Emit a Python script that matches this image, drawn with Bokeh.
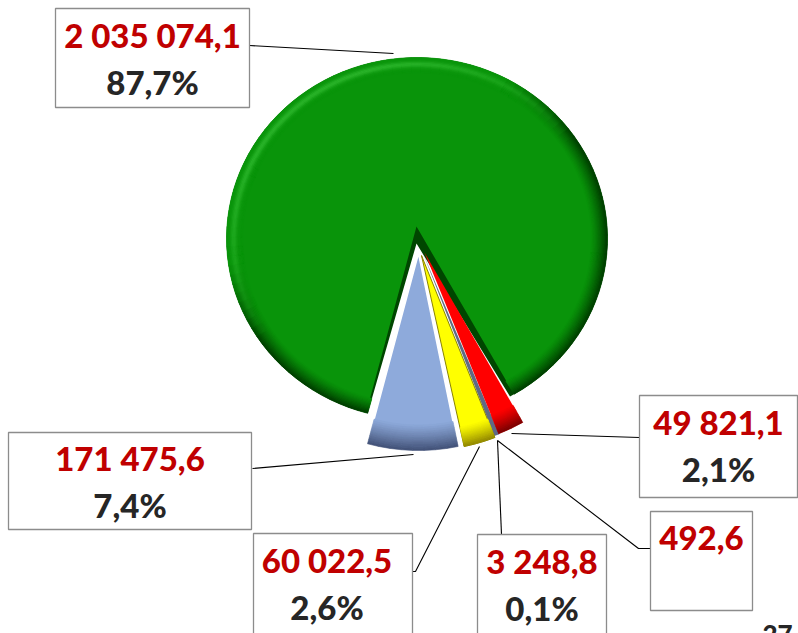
import math
from bokeh.plotting import figure
from bokeh.models import Range1d
from bokeh.core.properties import value
from bokeh.embed import file_html
from bokeh.resources import INLINE

values = [2035074.1, 49821.1, 492.6, 3248.8, 60022.5, 171475.6]
value_labels = ["2 035 074,1", "49 821,1", "492,6", "3 248,8", "60 022,5", "171 475,6"]
pct_labels = ["87,7%", "2,1%", "", "0,1%", "2,6%", "7,4%"]
corner_label = "27"

START = 195.0
total = sum(values)
spans = [v / total * 360 for v in values]
starts = []
a = START
for s in spans:
    starts.append(a)
    a += s
starts = [s % 360 for s in starts]

FONT = value("Lato Black, Lato")

p = figure(width=798, height=633, output_backend="svg", toolbar_location=None,
           x_range=Range1d(0, 798), y_range=Range1d(633, 0),
           x_axis_type=None, y_axis_type=None, min_border=0)
p.outline_line_color = None
p.grid.visible = False
p.background_fill_color = "white"
p.border_fill_color = "white"


def pt(c, th, f=1.0):
    r = math.radians(th)
    return c[0] + c[2] * f * math.sin(r), c[1] - c[3] * f * math.cos(r)


def arc(c, a0, a1, f=1.0, n=None):
    n = n or max(2, int(abs(a1 - a0) / 2) + 2)
    return [pt(c, a0 + (a1 - a0) * i / (n - 1), f) for i in range(n)]


def lerp(c1, c2, t):
    return "#%02x%02x%02x" % tuple(int(round(x + (y - x) * t)) for x, y in zip(c1, c2))


def wedge(c, a0, a1, color, apex=None, line=None, lw=0):
    pts = [apex or (c[0], c[1])] + arc(c, a0, a1)
    p.patch([q[0] for q in pts], [q[1] for q in pts], fill_color=color,
            line_color=line or color, line_width=lw)


def rim(c, a0, a1, face, dark, depth, lit=False):
    xs, ys, cols = [], [], []
    bands = 12
    n = max(1, int(abs(a1 - a0) / 3.0))
    for i in range(n):
        t0 = a0 + (a1 - a0) * i / n
        t1 = a0 + (a1 - a0) * (i + 1) / n
        tm = (t0 + t1) / 2
        light = max(0.0, math.cos(math.radians(tm - 325))) if lit else 0.0
        for b in range(bands):
            f0 = 1 - depth * (1 - b / bands)
            f1 = 1 - depth * (1 - (b + 1) / bands)
            q = arc(c, t0, t1, f0, 2) + arc(c, t1, t0, f1, 2)
            xs.append([u[0] for u in q])
            ys.append([u[1] for u in q])
            k = (b + 1) / bands
            if lit:
                # dark lower edge, with a pale band set in from the lit edge
                shade = lerp(face, dark, k ** 1.3 * (1 - min(1, light * 2.2)))
                sc_ = tuple(int(shade[j:j + 2], 16) for j in (1, 3, 5))
                glow = math.exp(-((k - 0.62) / 0.2) ** 2) * min(1, light * 1.1) * 0.75
                cols.append(lerp(sc_, (52, 190, 52), glow))
            else:
                cols.append(lerp(face, dark, k ** 1.2))
    p.patches(xs, ys, fill_color=cols, line_color=cols, line_width=0.6)


# green slice
gc = (416.5, 238, 190.5, 181)
g0, g1 = starts[0], starts[0] + spans[0]
wedge(gc, g0, g1, "#004600", apex=(416, 243))
wedge(gc, g0 + 0.5, g1 - 1.4, "#09940a", apex=(416, 226))
rim(gc, g0, g1 - 1.4, (9, 148, 10), (0, 62, 0), 0.085, lit=True)

# exploded slices: hairline and grey first, then red, yellow, blue
sc = (425, 251, 197, 197)
wedge(sc, starts[2] - 0.5, starts[3] + spans[3] + 0.5, "#5f6a85", apex=(423, 254))

rc = (426, 250, 197, 197)
wedge(rc, starts[1], starts[1] + spans[1], "#ff0000", apex=(424, 252))
rim(rc, starts[1], starts[1] + spans[1], (255, 0, 0), (125, 0, 0), 0.10)

yc = (424, 253, 197, 197)
wedge(yc, starts[4], starts[4] + spans[4], "#ffff00", apex=(421, 255), line="#8a8400", lw=1)
rim(yc, starts[4], starts[4] + spans[4], (255, 255, 0), (150, 140, 0), 0.10)

bc = (418, 253, 197, 197)
wedge(bc, starts[5], starts[5] + spans[5], "#8eaadb", apex=(418, 253), line="#ffffff", lw=1.5)
rim(bc, starts[5], starts[5] + spans[5], (142, 170, 219), (68, 84, 122), 0.13)

# leader lines
leaders = [
    ([249, 393], [45, 53]),
    ([639, 511], [437, 433]),
    ([650, 638, 497], [548, 548, 440]),
    ([501, 497], [534, 440]),
    ([412, 415, 479], [571, 571, 446]),
    ([252, 413], [468, 454]),
]
for xs, ys in leaders:
    p.line(xs, ys, line_color="black", line_width=1.1)

# label boxes: left, right, top, bottom, and the text offsets within them
boxes = [
    (55, 249, 8, 107, 0, 0),
    (639, 797, 395, 497, 0, 0),
    (650, 752, 511, 610, 0, 0),
    (477, 606, 534, 640, 0, 0),
    (253, 412, 533, 640, -6, 0),
    (8, 251, 432, 529, 0, -1.5),
]
for (l, r, t, b, dx, dy), v, q in zip(boxes, value_labels, pct_labels):
    p.quad(left=[l], right=[r], top=[t], bottom=[b], fill_color="white",
           line_color="#8c8c8c", line_width=1.3)
    cx = (l + r) / 2 + dx
    p.text([cx], [t + 26.5 + dy], text=[v], text_font=FONT, text_font_style="bold",
           text_font_size="33px", text_color="#c00000", text_align="center", text_baseline="middle")
    if q:
        p.text([cx], [t + 73.5 + dy], text=[q], text_font=FONT, text_font_style="bold",
               text_font_size="33px", text_color="#262626", text_align="center", text_baseline="middle")

p.text([777], [624], text=[corner_label], text_font=FONT, text_font_style="bold",
       text_font_size="26px", text_color="#262626", text_align="center", text_baseline="top")

open("out.html", "w").write(file_html(p, INLINE))
